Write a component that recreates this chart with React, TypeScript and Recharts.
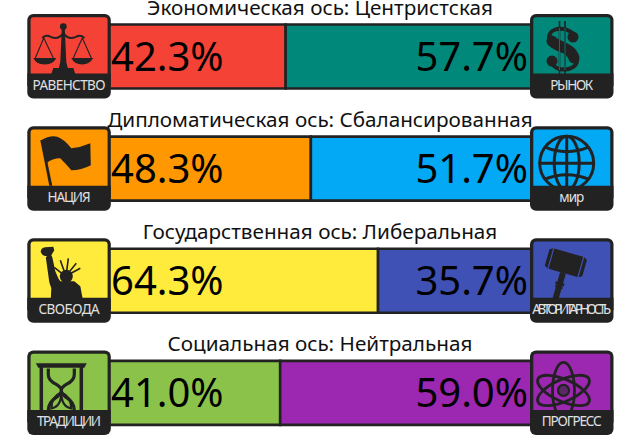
import React from "react";
import { BarChart, Bar, XAxis, YAxis, LabelList, Rectangle } from "recharts";

const axes = ["econ", "dipl", "govt", "scty"];
const titles = [
  "Экономическая ось: Центристская",
  "Дипломатическая ось: Сбалансированная",
  "Государственная ось: Либеральная",
  "Социальная ось: Нейтральная",
];
const leftValues = [42.3, 48.3, 64.3, 41.0];
const rightValues = [57.7, 51.7, 35.7, 59.0];
const leftColors = ["#F44336", "#FF9800", "#FFEB3B", "#8BC34A"];
const rightColors = ["#00897B", "#03A9F4", "#3F51B5", "#9C27B0"];
const leftNames = ["РАВЕНСТВО", "НАЦИЯ", "СВОБОДА", "ТРАДИЦИИ"];
const rightNames = ["РЫНОК", "мир", "АВТОРИТАРНОСТЬ", "ПРОГРЕСС"];
const leftNameWidths = [73, 43, 61, 64];
const rightNameWidths = [43, 25, 79, 60];

const rows = axes.map((axis, i) => ({ axis, left: leftValues[i], right: rightValues[i] }));

const DARK = "#222222";
const FONT = "'Noto Sans', sans-serif";

const Scales = () => (
  <g fill={DARK} stroke={DARK}>
    <circle cx={36} cy={12.5} r={3.4} stroke="none" />
    <path d="M34.5,14 L37.5,14 L39,48 L40.5,54 L31.5,54 L33,48 Z" stroke="none" />
    <path d="M26,54 H46 L48,60 H24 Z" stroke="none" />
    <path d="M15,24 Q18,20 24,23 Q31,26 36,19 Q41,26 48,23 Q54,20 57,24" fill="none" strokeWidth={2} />
    <path d="M16.5,24 L8,44 M16.5,24 L26,44 M55,24 L46,44 M55,24 L64,44" fill="none" strokeWidth={1.1} />
    <path d="M6,44 H29 Q26,50.5 17.5,50.5 Q9,50.5 6,44 Z" stroke="none" />
    <path d="M44,44 H66 Q62,50.5 55,50.5 Q47,50.5 44,44 Z" stroke="none" />
  </g>
);

const Flag = () => (
  <g fill={DARK}>
    <path d="M13,14 L15.5,13.5 L25,59.5 L22,59.5 Z" />
    <path d="M14,14 Q22,9 30,10.5 Q37,13 44,22 Q54,21 63,17 L63.5,39 Q54,44 44,44 Q39,38 33,32 Q25,32 19,37 Z" />
  </g>
);

const Statue = () => (
  <g fill={DARK} stroke={DARK}>
    <path d="M13.5,14 Q13,10 18,9 L26,8.5 L27,12 L24,17 L25,19 L28,33 L31,40 L33,43 L47,43 L53,48 L55.5,61 L23.5,61 L24,50 L22,44 L18.5,19 L20,18 Q15,18 13.5,14 Z" stroke="none" />
    <path d="M38,36 L33,22 M39,36 L41,20 M40,36 L49,25 M40,37 L53,30 M37,37 L27,29" fill="none" strokeWidth={1.6} />
    <circle cx={39} cy={38} r={6.5} stroke="none" />
  </g>
);

const Hourglass = () => (
  <g fill="none" stroke={DARK}>
    <path d="M9,13 H59 L57,17 H11 Z" fill={DARK} strokeWidth={0.5} />
    <path d="M14,16 V60 M54,16 V60" strokeWidth={3.5} />
    <path d="M21,18 V24 Q21,30 29,34 Q34,37 34,40 Q34,43 29,47 Q21,52 21,60 M47,18 V24 Q47,30 39,34 Q34,37 34,40 Q34,43 39,47 Q47,52 47,60" strokeWidth={3.2} />
    <path d="M34,42 Q24,46 24,58 Q34,56 34,42 Q34,56 44,58 Q44,46 34,42 Z" strokeWidth={2.2} />
  </g>
);

const Dollar = () => (
  <g fill="none" stroke={DARK} strokeLinecap="round">
    <path d="M45,23 C42,13 20,11 19,23 C18,35 47,32 47,46 C47,58 24,59 21,47" strokeWidth={4} />
    <path d="M22,27 C29,34 41,33 44,44" strokeWidth={11} />
    <circle cx={43} cy={23} r={5.5} fill={DARK} stroke="none" />
    <circle cx={22} cy={47} r={5.5} fill={DARK} stroke="none" />
    <path d="M29.5,7 V61 M35,7 V61" strokeWidth={1.6} strokeLinecap="butt" />
    <path d="M29.5,14 V56 M35,14 V56" stroke="#00897B" strokeWidth={0.8} strokeLinecap="butt" />
  </g>
);

const Globe = () => (
  <g fill="none" stroke={DARK} strokeWidth={3}>
    <circle cx={36.7} cy={37} r={27} />
    <ellipse cx={36.7} cy={37} rx={12.5} ry={27} />
    <path d="M36.7,10 V64 M9.7,37 H63.7" />
    <path d="M15,21 Q36.7,30 58.5,21 M15,53 Q36.7,44 58.5,53" />
  </g>
);

const Gavel = () => (
  <g fill={DARK} transform="rotate(16 36 24)">
    <path d="M21,14 L51,14 L51,35 L21,35 Z" />
    <path d="M16.5,16 L19.8,14 L19.8,35 L16.5,33 Z M52.2,14 L55.5,16 L55.5,33 L52.2,35 Z" />
    <rect x={33} y={35} width={6} height={29} />
    <rect x={31.5} y={45} width={9} height={3} />
    <rect x={32} y={49} width={8} height={1.5} />
  </g>
);

const Atom = () => (
  <g fill="none" stroke={DARK} strokeWidth={2.8}>
    <ellipse cx={33.5} cy={40} rx={28} ry={11} transform="rotate(90 33.5 40)" />
    <ellipse cx={33.5} cy={40} rx={28} ry={11} transform="rotate(24 33.5 40)" />
    <ellipse cx={33.5} cy={40} rx={28} ry={11} transform="rotate(-24 33.5 40)" />
    <circle cx={33.5} cy={40} r={5.5} fill="#5a2a66" strokeWidth={2.2} />
  </g>
);

const leftIcons = [Scales, Flag, Statue, Hourglass];
const rightIcons = [Dollar, Globe, Gavel, Atom];

const IconBox = ({ x, y, color, name, nameWidth, Icon }: any) => (
  <g transform={`translate(${x},${y})`}>
    <rect x={0} y={0} width={83.5} height={84.5} rx={6} fill={DARK} />
    <rect x={3.3} y={3.3} width={77} height={60} rx={3} fill={color} />
    <Icon />
    <path d={`M0,59.5 H83.5 V72 H0 Z`} fill={DARK} />
    <text x={41.75} y={76} textAnchor="middle" fontFamily={FONT} fontSize={13.5} fill="#E0E0E0" textLength={nameWidth} lengthAdjust="spacing">{name}</text>
  </g>
);

const renderRow = (props: any) => {
  const { y, index } = props;
  const top = y - 42.5;
  return (
    <g key={index}>
      <text x={320} y={y - 42} textAnchor="middle" fontFamily={FONT} fontSize={20.7} fill="#111">{titles[index]}</text>
      <IconBox x={27.3} y={top} color={leftColors[index]} name={leftNames[index]} nameWidth={leftNameWidths[index]} Icon={leftIcons[index]} />
      <IconBox x={530} y={top} color={rightColors[index]} name={rightNames[index]} nameWidth={rightNameWidths[index]} Icon={rightIcons[index]} />
    </g>
  );
};

const colored = (colors: string[]) => (props: any) => (
  <Rectangle {...props} fill={colors[props.index]} stroke={DARK} strokeWidth={2.6} />
);
const coloredRight = (colors: string[]) => (props: any) => (
  <Rectangle {...props} width={props.width + 6} fill={colors[props.index]} stroke={DARK} strokeWidth={2.6} />
);

const pct = (v: any) => `${Number(v).toFixed(1)}%`;

export default function App() {
  return (
    <div style={{ position: "absolute", left: 0, top: 0, width: 640, height: 448, overflow: "hidden", background: "#fff" }}>
      <BarChart
        width={640}
        height={449}
        data={rows}
        layout="vertical"
        barSize={64}
        margin={{ top: 0.5, right: 112, bottom: 0, left: 107 }}
      >
        <XAxis type="number" domain={[0, 100]} hide />
        <Bar dataKey="left" stackId="a" isAnimationActive={false} shape={colored(leftColors)}>
          <LabelList dataKey="left" position="insideLeft" offset={3} formatter={pct} fontFamily={FONT} fontSize={40} fill="#000" />
        </Bar>
        <Bar dataKey="right" stackId="a" isAnimationActive={false} shape={coloredRight(rightColors)}>
          <LabelList dataKey="right" position="insideRight" offset={0} formatter={pct} fontFamily={FONT} fontSize={40} fill="#000" />
        </Bar>
        <YAxis type="category" dataKey="axis" width={1} axisLine={false} tickLine={false} interval={0} tick={renderRow} />
      </BarChart>
    </div>
  );
}
